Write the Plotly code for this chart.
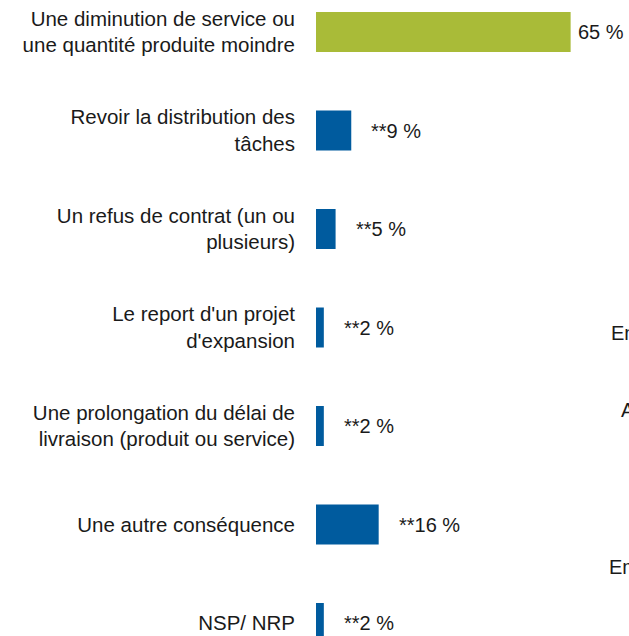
import plotly.graph_objects as go

categories = [
    "Une diminution de service ou<br>une quantité produite moindre",
    "Revoir la distribution des<br>tâches",
    "Un refus de contrat (un ou<br>plusieurs)",
    "Le report d'un projet<br>d'expansion",
    "Une prolongation du délai de<br>livraison (produit ou service)",
    "Une autre conséquence",
    "NSP/ NRP",
]
values = [65, 9, 5, 2, 2, 16, 2]
value_labels = ["65 %", "**9 %", "**5 %", "**2 %", "**2 %", "**16 %", "**2 %"]
bar_colors = ["#A9BB38", "#005B9E", "#005B9E", "#005B9E", "#005B9E", "#005B9E", "#005B9E"]
label_shift = [5, 18, 18, 18, 18, 18, 18]

# clipped side texts (partially outside the window), page pixel positions
side_texts = ["En", "A", "Em"]
side_pos = [(609, 333), (619, 410), (607, 567)]

W, H = 629, 636
L = 316
FONT = "Liberation Sans, Arial, sans-serif"

fig = go.Figure()
fig.add_trace(go.Bar(
    x=values, y=categories, orientation="h",
    marker=dict(color=bar_colors, line=dict(width=0)),
    width=0.406, hoverinfo="skip",
))

for v, c, t, s in zip(values, categories, value_labels, label_shift):
    fig.add_annotation(x=v, y=c, text=t, showarrow=False, xanchor="left",
                       xshift=s, yanchor="middle",
                       font=dict(size=20, color="#1a1a1a", family=FONT))

for t, (px, py) in zip(side_texts, side_pos):
    fig.add_annotation(xref="paper", yref="paper",
                       x=(px - L) / (W - L), y=1 - py / H,
                       text=t, showarrow=False, xanchor="left", yanchor="middle",
                       font=dict(size=20, color="#1a1a1a", family=FONT))

px_per_cat = 98.5
first_center = 32
top = -first_center / px_per_cat
bottom = (H - first_center) / px_per_cat

fig.update_layout(
    width=W, height=H,
    margin=dict(l=L, r=0, t=0, b=0, pad=0),
    paper_bgcolor="white", plot_bgcolor="white",
    showlegend=False,
    font=dict(family=FONT, size=20.5, color="#1a1a1a"),
    xaxis=dict(range=[0, 79.9], visible=False, fixedrange=True),
    yaxis=dict(type="category", range=[bottom, top], showgrid=False,
               zeroline=False, showline=False, ticks="",
               ticklabelstandoff=20, automargin=False,
               tickfont=dict(size=20.5, family=FONT, color="#1a1a1a")),
)

fig.write_html(
    "out.html",
    config={"displayModeBar": False},
    post_script="document.body.style.margin='0';document.body.style.padding='0';"
                "document.documentElement.style.overflow='hidden';"
                "document.body.style.overflow='hidden';",
)
